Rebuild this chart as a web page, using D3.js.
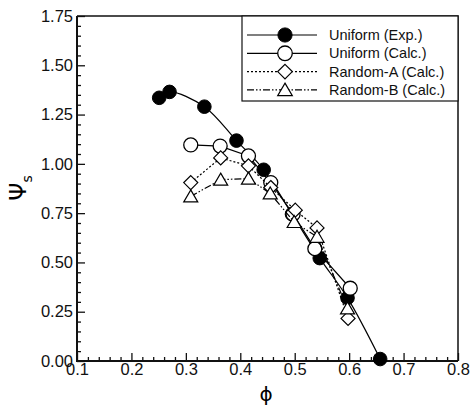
<!DOCTYPE html>
<html lang="en">
<head>
  <meta charset="utf-8">
  <title>Psi_s vs phi</title>
  <script src="https://cdn.jsdelivr.net/npm/d3@7"></script>
  <style>
    body { margin: 0; background: #fff; }
    svg { font-family: "Liberation Sans", Arial, sans-serif; }
    .tick text { font-size: 16.5px; fill: #111; }
  </style>
</head>
<body>
<svg id="chart" width="475" height="405"></svg>
<script>
// data
const seriesNames = ["Uniform (Exp.)", "Uniform (Calc.)", "Random-A (Calc.)", "Random-B (Calc.)"];

const uniformExp = [
  [0.251, 1.335], [0.270, 1.365], [0.334, 1.290], [0.393, 1.118],
  [0.443, 0.970], [0.495, 0.745], [0.546, 0.522], [0.597, 0.320], [0.657, 0.010]
];
const uniformCalc = [
  [0.309, 1.096], [0.363, 1.090], [0.415, 1.040], [0.456, 0.905],
  [0.497, 0.745], [0.537, 0.570], [0.602, 0.369]
];
const randomA = [
  [0.309, 0.905], [0.364, 1.030], [0.415, 0.990], [0.456, 0.880],
  [0.501, 0.765], [0.541, 0.675], [0.598, 0.216]
];
const randomB = [
  [0.309, 0.835], [0.364, 0.920], [0.415, 0.925], [0.455, 0.850],
  [0.499, 0.705], [0.541, 0.630], [0.597, 0.267]
];

const xMajor = d3.range(1, 9).map(i => i / 10);
const xMinor = d3.range(5, 41).map(i => i / 50).filter(v => Math.round(v * 50) % 5 !== 0);
const yMajor = d3.range(0, 8).map(i => i * 0.25);
const yMinor = d3.range(0, 36).map(i => i * 0.05).filter((v, i) => i % 5 !== 0);

const svg = d3.select("#chart");
const x = d3.scaleLinear().domain([0.1, 0.8]).range([77, 458]);
const y = d3.scaleLinear().domain([0, 1.75]).range([361, 16]);

// axes with inward ticks
const gx = svg.append("g").attr("transform", `translate(0,${y(0)})`);
gx.call(d3.axisBottom(x).tickValues(xMajor).tickSize(-8).tickPadding(2).tickFormat(d3.format(".1f")));
const gxm = svg.append("g").attr("transform", `translate(0,${y(0)})`);
gxm.call(d3.axisBottom(x).tickValues(xMinor).tickSize(-4).tickFormat(""));

const gy = svg.append("g").attr("transform", `translate(${x(0.1)},0)`);
gy.call(d3.axisLeft(y).tickValues(yMajor).tickSize(-8).tickPadding(4).tickFormat(d3.format(".2f")));
const gym = svg.append("g").attr("transform", `translate(${x(0.1)},0)`);
gym.call(d3.axisLeft(y).tickValues(yMinor).tickSize(-4).tickFormat(""));

svg.selectAll(".domain").remove();
svg.selectAll(".tick line").attr("stroke", "#111").attr("stroke-width", 1.3);

// frame
svg.append("path")
  .attr("d", `M${x(0.1)},${y(1.75)}H${x(0.8)}V${y(0)}`)
  .attr("fill", "none").attr("stroke", "#111").attr("stroke-width", 1.5);
svg.append("path")
  .attr("d", `M${x(0.1)},${y(1.75)}V${y(0)}H${x(0.8)}`)
  .attr("fill", "none").attr("stroke", "#111").attr("stroke-width", 2);

// axis titles
svg.append("text")
  .attr("transform", "translate(26,188) rotate(-90)")
  .attr("text-anchor", "middle")
  .attr("font-size", 23)
  .attr("font-family", "DejaVu Sans, sans-serif")
  .html('Ψ<tspan font-size="14" dy="6">s</tspan>');
svg.append("text")
  .attr("x", 266).attr("y", 401)
  .attr("text-anchor", "middle")
  .attr("font-size", 20)
  .attr("font-family", "DejaVu Sans, sans-serif")
  .text("ϕ");

// markers
function marker(g, kind, r) {
  r = r || 7;
  if (kind === "filled") {
    g.append("circle").attr("r", r - 0.2).attr("fill", "#000").attr("stroke", "#000");
  } else if (kind === "circle") {
    g.append("circle").attr("r", r).attr("fill", "#fff").attr("stroke", "#000").attr("stroke-width", 1.3);
  } else if (kind === "diamond") {
    g.append("path").attr("d", `M0,${-r}L${r},0L0,${r}L${-r},0Z`).attr("fill", "#fff").attr("stroke", "#000").attr("stroke-width", 1.2);
  } else {
    g.append("path").attr("d", `M0,${-r + 0.5}L${r},${r - 1.5}L${-r},${r - 1.5}Z`).attr("fill", "#fff").attr("stroke", "#000").attr("stroke-width", 1.2);
  }
}

const series = [
  { data: uniformExp, kind: "filled", dash: null, curve: d3.curveCatmullRom },
  { data: uniformCalc, kind: "circle", dash: null, curve: d3.curveLinear },
  { data: randomA, kind: "diamond", dash: "2,2", curve: d3.curveLinear },
  { data: randomB, kind: "triangle", dash: "7,2,1.5,2,1.5,2", curve: d3.curveLinear }
];

series.forEach(s => {
  const line = d3.line().x(d => x(d[0])).y(d => y(d[1])).curve(s.curve);
  svg.append("path")
    .attr("d", line(s.data))
    .attr("fill", "none").attr("stroke", "#000").attr("stroke-width", 1.2)
    .attr("stroke-dasharray", s.dash);
  svg.append("g").selectAll("g")
    .data(s.data)
    .join("g")
    .attr("transform", d => `translate(${x(d[0])},${y(d[1])})`)
    .each(function() { marker(d3.select(this), s.kind); });
});

// legend
const lg = svg.append("g");
lg.append("rect")
  .attr("x", 242).attr("y", 16).attr("width", 216).attr("height", 85)
  .attr("fill", "#fff").attr("stroke", "#111").attr("stroke-width", 1.2);
series.forEach((s, i) => {
  const cy = 35 + i * 18.3;
  lg.append("line")
    .attr("x1", 247).attr("x2", 317).attr("y1", cy).attr("y2", cy)
    .attr("stroke", "#000").attr("stroke-width", 1.2)
    .attr("stroke-dasharray", s.dash);
  marker(lg.append("g").attr("transform", `translate(285,${cy})`), s.kind, 7.3);
  lg.append("text")
    .attr("x", 329).attr("y", cy + 5)
    .attr("font-size", 14.5)
    .attr("fill", "#111")
    .text(seriesNames[i]);
});
</script>
</body>
</html>
